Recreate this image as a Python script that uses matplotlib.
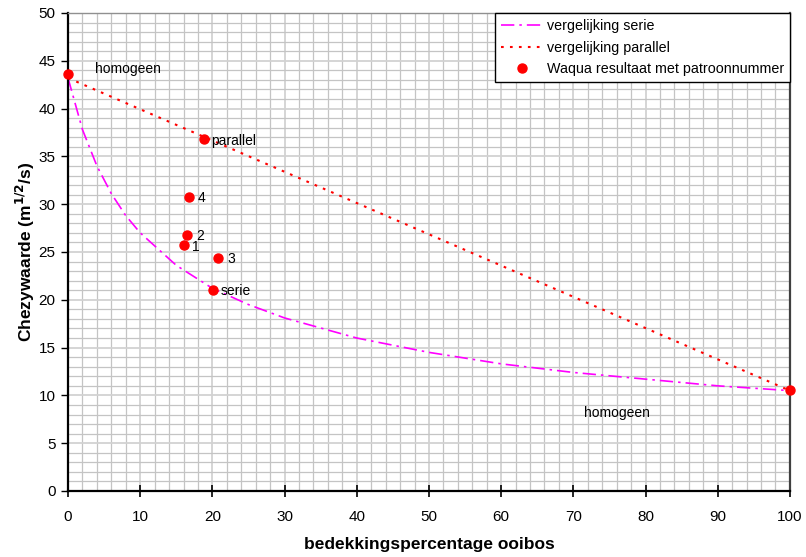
import matplotlib
matplotlib.use("Agg")
import matplotlib.pyplot as plt
from matplotlib.ticker import MultipleLocator

plt.rcParams["font.family"] = ["Liberation Sans", "DejaVu Sans"]

# curve "vergelijking serie"
serie_x = [0, 2, 4, 6, 8, 10, 15, 20, 25, 30, 40, 50, 60, 70, 80, 90, 100]
serie_y = [43.2, 37.8, 34.0, 31.1, 28.8, 27.0, 23.6, 21.2, 19.5, 18.1, 16.0, 14.5, 13.3, 12.4, 11.7, 11.0, 10.5]

# straight line "vergelijking parallel"
par_x = [0, 100]
par_y = [43.2, 10.5]

# Waqua results
pt_x = [0, 100, 18.8, 16.7, 16.5, 16.0, 20.8, 20.1]
pt_y = [43.6, 10.6, 36.8, 30.8, 26.8, 25.7, 24.4, 21.0]

# annotations
lab_txt = ["homogeen", "homogeen", "parallel", "4", "2", "1", "3", "serie"]
lab_x = [3.8, 71.5, 19.8, 17.9, 17.8, 17.2, 22.1, 21.2]
lab_y = [44.1, 8.2, 36.6, 30.6, 26.7, 25.5, 24.3, 20.9]

fig = plt.figure(figsize=(8.06, 5.57), dpi=100)
ax = fig.add_axes([0.0844, 0.1185, 0.8956, 0.8582])

ax.set_xlim(0, 100)
ax.set_ylim(0, 50)
ax.xaxis.set_major_locator(MultipleLocator(10))
ax.xaxis.set_minor_locator(MultipleLocator(2))
ax.yaxis.set_major_locator(MultipleLocator(5))
ax.yaxis.set_minor_locator(MultipleLocator(1))
ax.grid(which="minor", color="#c4c4c4", lw=0.9)
ax.grid(which="major", color="#d2d2d2", lw=1.3)
ax.set_axisbelow(True)

ax.tick_params(axis="x", which="major", direction="inout", length=8, width=1.2, labelsize=11, pad=10)
ax.tick_params(axis="y", which="major", direction="out", length=5, width=1, labelsize=11, pad=4)
ax.tick_params(which="minor", length=0)

for s in ("left", "bottom"):
    ax.spines[s].set_color("black")
    ax.spines[s].set_linewidth(1.6)
ax.spines["right"].set_color("#404040")
ax.spines["right"].set_linewidth(1.6)
ax.spines["top"].set_color("#909090")
ax.spines["top"].set_linewidth(1.0)

ax.plot(serie_x, serie_y, color="#ff00ff", lw=1.2, dashes=(8, 3, 1.5, 3),
        label="vergelijking serie")
ax.plot(par_x, par_y, color="#ff0000", lw=1.5, dashes=(1.3, 3),
        label="vergelijking parallel")
ax.plot(pt_x, pt_y, "o", color="#ff0000", ms=6.5, clip_on=False,
        label="Waqua resultaat met patroonnummer", zorder=5)

for t, x, y in zip(lab_txt, lab_x, lab_y):
    ax.text(x, y, t, fontsize=10, va="center", ha="left")

ax.set_xlabel("bedekkingspercentage ooibos", fontsize=12.5, fontweight="bold", labelpad=9)
ax.set_ylabel(r"Chezywaarde (m$^{\mathbf{1/2}}$/s)", fontsize=12.5, fontweight="bold", labelpad=1)

leg = ax.legend(loc="upper right", fontsize=10.3, frameon=True, fancybox=False,
                borderaxespad=0, handlelength=2.9, borderpad=0.4, labelspacing=0.55,
                handletextpad=0.3)
leg.get_frame().set_edgecolor("black")
leg.get_frame().set_linewidth(1.0)
leg.get_frame().set_alpha(1)

fig.savefig("out.png", dpi=100)
